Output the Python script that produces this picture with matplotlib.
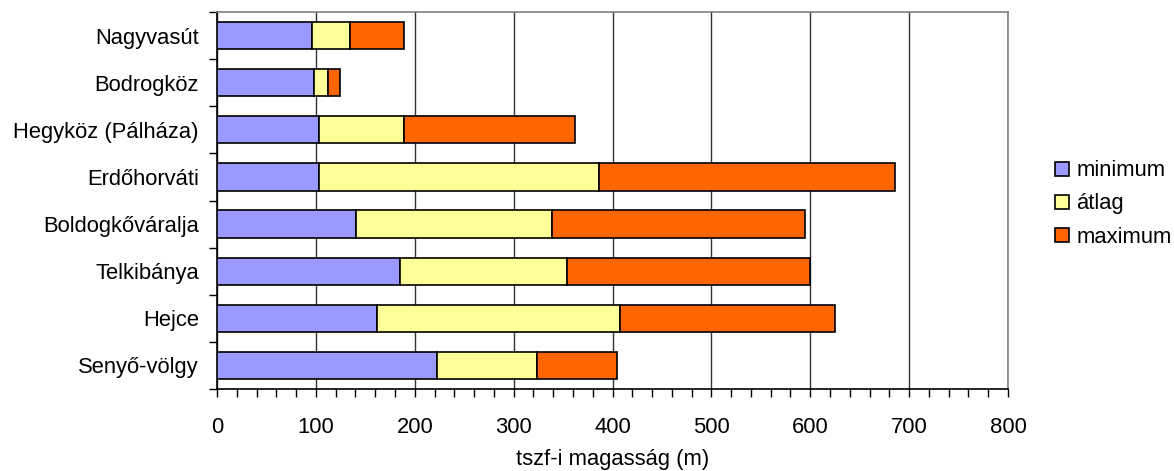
import matplotlib
matplotlib.use("Agg")
import matplotlib.pyplot as plt
from matplotlib.ticker import MultipleLocator, FixedLocator
import numpy as np

plt.rcParams['font.family'] = ['Liberation Sans', 'DejaVu Sans']

# Elevation statistics per area (m above sea level)
areas = ["Nagyvasút", "Bodrogköz", "Hegyköz (Pálháza)", "Erdőhorváti",
         "Boldogkőváralja", "Telkibánya", "Hejce", "Senyő-völgy"]
minimum = [96, 98, 103, 103, 141, 185, 162, 222]
atlag = [135, 112, 189, 386, 339, 354, 408, 324]
maximum = [189, 124, 362, 686, 595, 600, 625, 405]

series_labels = ["minimum", "átlag", "maximum"]
colors = ["#9999FF", "#FFFF99", "#FF6600"]

mins = np.array(minimum, dtype=float)
avgs = np.array(atlag, dtype=float)
maxs = np.array(maximum, dtype=float)

# Stacked segments: min, then up to the mean, then up to the max
segments = [mins, avgs - mins, maxs - avgs]
lefts = [np.zeros_like(mins), mins, avgs]

FS = 15.8
fig = plt.figure(figsize=(11.74, 4.71), dpi=100)
ax = fig.add_axes([217 / 1174, 1 - 389 / 471, (1008 - 217) / 1174, (389 - 12) / 471])

y = np.arange(len(areas))
handles = []
for seg, left, col, lab in zip(segments, lefts, colors, series_labels):
    h = ax.barh(y, seg, left=left, height=0.58, color=col, edgecolor="black",
                linewidth=1.2, label=lab, zorder=3)
    handles.append(h)

ax.set_xlim(0, 800)
ax.set_ylim(len(areas) - 0.5, -0.5)

ax.xaxis.set_major_locator(MultipleLocator(100))
ax.xaxis.set_minor_locator(MultipleLocator(20))
ax.grid(axis="x", which="major", color="#333333", linewidth=1.0, zorder=1)

ax.set_yticks(y)
ax.set_yticklabels(areas, fontsize=FS)
ax.yaxis.set_minor_locator(FixedLocator(np.arange(-0.5, len(areas), 1.0)))
ax.tick_params(axis="y", which="major", length=0, pad=13)
ax.tick_params(axis="y", which="minor", length=6, width=1.0, color="black", direction="out")
ax.tick_params(axis="x", which="both", length=6, width=1.0, color="black",
               direction="out", labelsize=FS, pad=14)

for side in ("left", "bottom"):
    ax.spines[side].set_color("black")
    ax.spines[side].set_linewidth(1.2)
for side in ("top", "right"):
    ax.spines[side].set_color("#808080")
    ax.spines[side].set_linewidth(1.2)

ax.set_xlabel("tszf-i magasság (m)", fontsize=FS, labelpad=8)

fig.legend(handles=handles, labels=series_labels, loc="center left",
           bbox_to_anchor=(1044 / 1174, 1 - 204 / 471), frameon=False,
           fontsize=FS, handlelength=0.62, handleheight=0.62,
           handletextpad=0.35, labelspacing=0.55, borderpad=0.0)

fig.savefig("out.png", dpi=100)
